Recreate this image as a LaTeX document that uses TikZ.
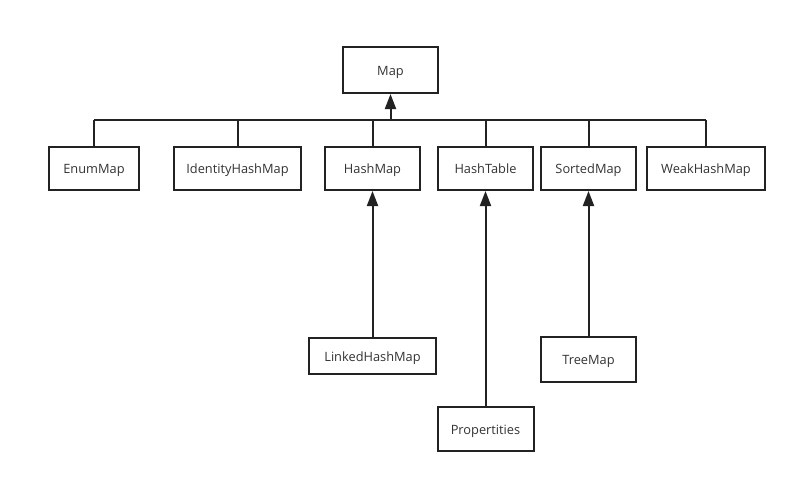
\documentclass[tikz,border=0pt]{standalone}
\usepackage{fontspec}
\setmainfont{Open Sans}
\usetikzlibrary{arrows.meta}
\definecolor{ink}{HTML}{222222}
\definecolor{txt}{HTML}{333333}
\begin{document}
\begin{tikzpicture}[x=1pt,y=-1pt,
  cls/.style={draw=ink, line width=2pt, fill=white, text=txt,
    font=\fontsize{12.8}{15}\selectfont, inner sep=0pt, anchor=center,
    text height=11pt, text depth=1pt},
  link/.style={draw=ink, line width=2pt},
  inherit/.style={link, -{Triangle[length=15pt,width=11pt]}}]
\useasboundingbox (0,0) rectangle (796,483);

% root interface
\node[cls, minimum width=95pt, minimum height=46pt] (map) at (390.5,70) {Map};

% direct implementations
\node[cls, minimum width=90pt,  minimum height=43pt] (enum)  at (94,168.5)    {EnumMap};
\node[cls, minimum width=127pt, minimum height=43pt] (ident) at (237.5,168.5) {IdentityHashMap};
\node[cls, minimum width=95pt,  minimum height=43pt] (hmap)  at (372.5,168.5) {HashMap};
\node[cls, minimum width=95pt,  minimum height=43pt] (htab)  at (485.5,168.5) {HashTable};
\node[cls, minimum width=95pt,  minimum height=43pt] (smap)  at (588.5,168.5) {SortedMap};
\node[cls, minimum width=118pt, minimum height=43pt] (weak)  at (706,168.5)   {WeakHashMap};

% subclasses
\node[cls, minimum width=127pt, minimum height=36pt] (linked) at (372.5,356) {LinkedHashMap};
\node[cls, minimum width=95pt,  minimum height=45pt] (tree)   at (588.5,359.5) {TreeMap};
\node[cls, minimum width=96pt,  minimum height=44pt] (props)  at (485.5,429) {Propertities};

% shared bus to Map
\coordinate (bus) at (0,120);
\draw[link] (enum.north |- bus) -- (weak.north |- bus);
\foreach \n in {enum,ident,hmap,htab,smap,weak}
  \draw[link] (\n.north) -- (\n.north |- bus);
\draw[inherit] (map.south |- bus) -- (map.south);

% subclass arrows
\draw[inherit] (linked.north) -- (hmap.south);
\draw[inherit] (props.north) -- (htab.south);
\draw[inherit] (tree.north) -- (smap.south);
\end{tikzpicture}
\end{document}
